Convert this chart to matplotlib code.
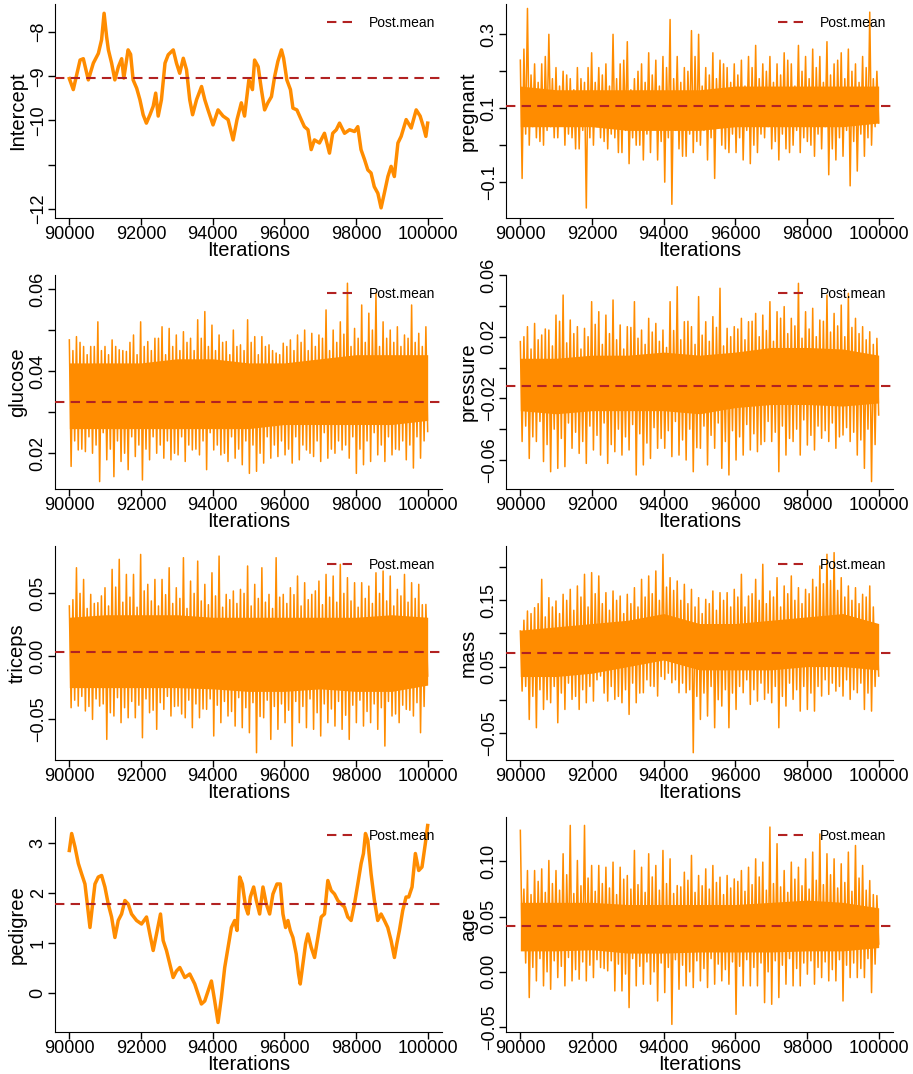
import numpy as np
import matplotlib
matplotlib.use("Agg")
import matplotlib.pyplot as plt
from matplotlib.lines import Line2D

plt.rcParams['font.family'] = ['Liberation Sans', 'DejaVu Sans']

##Data
# smooth (slowly mixing) chains: iteration, value
intercept_iter = [90000, 90110, 90300, 90390, 90530, 90670, 90810, 90900, 90970, 91040,
                  91090, 91180, 91270, 91370, 91460, 91520, 91640, 91710, 91780, 91880,
                  91970, 92060, 92150, 92250, 92340, 92410, 92480, 92570, 92670, 92760,
                  92900, 92990, 93080, 93180, 93270, 93360, 93440, 93550, 93690, 93780,
                  93870, 94010, 94150, 94290, 94430, 94570, 94680, 94800, 94890, 95010,
                  95110, 95170, 95270, 95360, 95450, 95540, 95640, 95730, 95820, 95920,
                  95980, 96070, 96170, 96240, 96350, 96470, 96560, 96660, 96750, 96840,
                  96980, 97120, 97260, 97350, 97450, 97540, 97680, 97820, 97960, 98050,
                  98140, 98240, 98330, 98420, 98510, 98610, 98700, 98790, 98890, 98980,
                  99070, 99170, 99260, 99400, 99540, 99680, 99790, 99880, 99950, 100000]
intercept = [-9.05, -9.3, -8.63, -8.6, -9.08, -8.7, -8.48, -8.17, -7.57, -8.1,
             -8.4, -8.7, -9.08, -8.78, -8.6, -9.04, -8.4, -8.5, -9.08, -9.27,
             -9.53, -9.87, -10.06, -9.87, -9.68, -9.38, -9.9, -9.53, -8.7, -8.51,
             -8.4, -8.7, -8.93, -8.59, -8.85, -9.53, -9.87, -9.53, -9.23, -9.53,
             -9.76, -10.1, -9.76, -9.9, -9.98, -10.44, -9.98, -9.6, -9.9, -9.08,
             -9.3, -8.63, -8.78, -9.3, -9.76, -9.6, -9.46, -9.0, -8.66, -8.4,
             -8.59, -9.08, -9.3, -9.72, -9.76, -9.98, -10.14, -10.21, -10.66, -10.44,
             -10.51, -10.29, -10.74, -10.29, -10.21, -10.06, -10.29, -10.21, -10.25, -10.14,
             -10.66, -10.89, -11.12, -11.19, -11.5, -11.65, -11.98, -11.65, -11.27, -11.04,
             -11.27, -10.51, -10.36, -9.98, -10.17, -9.76, -9.9, -10.14, -10.36, -10.06]

pedigree_iter = [90000, 90065, 90158, 90251, 90344, 90436, 90501, 90576, 90650, 90715,
                 90808, 90901, 90993, 91086, 91179, 91272, 91365, 91458, 91551, 91643,
                 91736, 91876, 92015, 92154, 92247, 92340, 92433, 92544, 92618, 92711,
                 92804, 92897, 92990, 93083, 93222, 93361, 93500, 93593, 93686, 93779,
                 93872, 93965, 94057, 94150, 94243, 94336, 94429, 94522, 94615, 94680,
                 94754, 94828, 94921, 94986, 95051, 95144, 95218, 95311, 95404, 95497,
                 95590, 95682, 95794, 95887, 95961, 96035, 96100, 96165, 96240, 96332,
                 96397, 96444, 96518, 96592, 96657, 96750, 96843, 96936, 97029, 97121,
                 97214, 97307, 97400, 97493, 97586, 97679, 97771, 97864, 97957, 98050,
                 98143, 98208, 98264, 98329, 98421, 98514, 98607, 98700, 98793, 98886,
                 98979, 99072, 99137, 99211, 99304, 99397, 99471, 99564, 99657, 99750,
                 99842, 99935, 100000]
pedigree = [2.85, 3.19, 2.92, 2.59, 2.38, 2.18, 1.78, 1.31, 1.78, 2.18,
            2.32, 2.35, 2.12, 1.78, 1.52, 1.11, 1.45, 1.58, 1.85, 1.78,
            1.58, 1.45, 1.38, 1.52, 1.18, 0.85, 1.18, 1.58, 1.05, 0.85,
            0.58, 0.31, 0.44, 0.51, 0.31, 0.38, 0.18, -0.02, -0.22, -0.16,
            0.04, 0.24, -0.16, -0.59, -0.09, 0.51, 0.91, 1.31, 1.45, 1.25,
            2.32, 2.18, 1.72, 1.58, 1.92, 2.12, 1.85, 1.58, 2.12, 1.78,
            1.58, 1.98, 2.18, 2.18, 1.58, 1.31, 1.45, 1.25, 1.11, 0.78,
            0.38, 0.18, 0.58, 0.98, 1.18, 0.91, 0.71, 1.11, 1.52, 1.58,
            2.25, 2.05, 1.98, 1.85, 1.78, 1.72, 1.52, 1.45, 1.78, 2.18,
            2.59, 2.79, 3.19, 3.05, 2.38, 1.85, 1.45, 1.58, 1.45, 1.31,
            1.05, 0.71, 0.98, 1.25, 1.65, 1.92, 1.92, 2.12, 2.79, 2.45,
            2.52, 2.99, 3.35]

# fast mixing chains:
#   *_hi / *_lo      tall spike tops / bottoms, every 200 iterations
#   *_hi2 / *_lo2    smaller spikes in between
#   *_core_hi/_lo    the dense part of the band, every 1000 iterations
pregnant_hi = [0.23, 0.37, 0.22, 0.22, 0.30, 0.21, 0.20, 0.18, 0.21, 0.17,
               0.25, 0.21, 0.22, 0.30, 0.22, 0.28, 0.18, 0.22, 0.25, 0.23,
               0.24, 0.34, 0.24, 0.21, 0.31, 0.30, 0.21, 0.25, 0.23, 0.21,
               0.22, 0.23, 0.24, 0.27, 0.22, 0.24, 0.22, 0.25, 0.22, 0.27,
               0.24, 0.26, 0.24, 0.28, 0.22, 0.25, 0.26, 0.22, 0.24, 0.36, 0.20]
pregnant_lo = [-0.09, 0.0, 0.02, 0.0, 0.05, 0.02, 0.0, 0.02, -0.01, -0.17,
               0.0, 0.02, -0.01, 0.02, -0.02, -0.05, 0.0, -0.04, -0.02, -0.04,
               -0.10, -0.16, -0.01, -0.03, -0.02, 0.0, -0.04, -0.09, 0.0, -0.02,
               -0.02, -0.04, -0.05, -0.02, 0.02, -0.01, -0.04, -0.01, 0.0, -0.02,
               0.01, -0.03, -0.01, -0.08, -0.04, -0.03, -0.11, -0.07, -0.03, 0.0, 0.06]
pregnant_hi2 = [0.26, 0.19, 0.17, 0.24, 0.18, 0.16, 0.19, 0.15, 0.18, 0.21,
                0.17, 0.19, 0.16, 0.18, 0.23, 0.15, 0.20, 0.17, 0.19, 0.16,
                0.21, 0.18, 0.17, 0.20, 0.24, 0.16, 0.19, 0.18, 0.22, 0.17,
                0.19, 0.16, 0.21, 0.18, 0.20, 0.17, 0.19, 0.23, 0.16, 0.20,
                0.18, 0.21, 0.17, 0.19, 0.23, 0.18, 0.20, 0.17, 0.21, 0.18]
pregnant_lo2 = [0.03, 0.05, 0.01, 0.04, 0.02, 0.06, 0.03, -0.01, 0.04, 0.02,
                0.05, 0.01, 0.03, -0.02, 0.04, 0.02, 0.0, 0.03, 0.05, 0.01,
                0.02, 0.04, -0.03, 0.03, 0.01, 0.04, 0.02, 0.05, -0.01, 0.03,
                0.02, 0.04, 0.0, 0.03, 0.05, 0.01, 0.03, -0.02, 0.04, 0.02,
                0.0, 0.03, 0.05, -0.01, 0.02, 0.04, 0.01, 0.03, 0.02, 0.05]
pregnant_core_hi = [0.16, 0.15, 0.15, 0.15, 0.15, 0.15, 0.16, 0.16, 0.16, 0.16, 0.16]
pregnant_core_lo = [0.05, 0.05, 0.05, 0.04, 0.04, 0.04, 0.05, 0.05, 0.05, 0.05, 0.06]

glucose_hi = [0.0476, 0.0484, 0.046, 0.046, 0.052, 0.046, 0.0476, 0.0452, 0.0448, 0.0488,
              0.052, 0.0472, 0.048, 0.0508, 0.0504, 0.0488, 0.0496, 0.048, 0.0525, 0.0545,
              0.0512, 0.0488, 0.0472, 0.05, 0.0464, 0.0525, 0.0484, 0.0484, 0.0464, 0.0444,
              0.0468, 0.0476, 0.0488, 0.05, 0.0492, 0.0488, 0.0549, 0.05, 0.052, 0.0614,
              0.0504, 0.0561, 0.0541, 0.059, 0.052, 0.05, 0.0508, 0.0488, 0.0561, 0.0492, 0.0508]
glucose_lo = [0.0168, 0.0208, 0.0204, 0.02, 0.0131, 0.0184, 0.0143, 0.018, 0.016, 0.0192,
              0.0135, 0.0184, 0.02, 0.0188, 0.0184, 0.0196, 0.018, 0.0208, 0.0196, 0.016,
              0.0208, 0.0196, 0.018, 0.0188, 0.0172, 0.0151, 0.0156, 0.0176, 0.0188, 0.0192,
              0.0196, 0.0176, 0.0184, 0.0208, 0.0192, 0.018, 0.0188, 0.02, 0.0208, 0.0188,
              0.0151, 0.0172, 0.018, 0.0196, 0.018, 0.0196, 0.0208, 0.0184, 0.0164, 0.0188, 0.0253]
glucose_hi2 = [0.045, 0.047, 0.044, 0.046, 0.045, 0.044, 0.046, 0.045, 0.047, 0.044,
               0.046, 0.045, 0.048, 0.044, 0.046, 0.045, 0.047, 0.045, 0.048, 0.046,
               0.045, 0.047, 0.044, 0.046, 0.045, 0.047, 0.044, 0.046, 0.045, 0.044,
               0.046, 0.045, 0.047, 0.045, 0.046, 0.048, 0.045, 0.047, 0.049, 0.046,
               0.048, 0.047, 0.05, 0.046, 0.048, 0.047, 0.046, 0.048, 0.047, 0.046]
glucose_lo2 = [0.023, 0.021, 0.024, 0.022, 0.025, 0.021, 0.023, 0.02, 0.024, 0.022,
               0.021, 0.024, 0.022, 0.023, 0.02, 0.024, 0.022, 0.021, 0.023, 0.025,
               0.022, 0.02, 0.024, 0.021, 0.023, 0.022, 0.02, 0.024, 0.022, 0.023,
               0.021, 0.024, 0.022, 0.02, 0.023, 0.025, 0.021, 0.023, 0.022, 0.024,
               0.021, 0.023, 0.025, 0.022, 0.024, 0.021, 0.023, 0.022, 0.024, 0.023]
glucose_core_hi = [0.042, 0.042, 0.042, 0.043, 0.043, 0.042, 0.042, 0.043, 0.044, 0.044, 0.044]
glucose_core_lo = [0.026, 0.026, 0.026, 0.026, 0.026, 0.026, 0.027, 0.027, 0.027, 0.027, 0.028]

pressure_hi = [0.0168, 0.0265, 0.0286, 0.0211, 0.0243, 0.034, 0.047, 0.0308, 0.0265, 0.0254,
               0.0427, 0.0362, 0.034, 0.0438, 0.0276, 0.0265, 0.0427, 0.0243, 0.0319, 0.0286,
               0.0243, 0.0427, 0.0524, 0.0297, 0.0265, 0.046, 0.0297, 0.033, 0.0514, 0.0254,
               0.0265, 0.0319, 0.0297, 0.0351, 0.034, 0.0427, 0.0362, 0.0395, 0.0319, 0.0546,
               0.0362, 0.0384, 0.0308, 0.047, 0.0351, 0.0405, 0.0481, 0.0319, 0.0265, 0.0232, 0.0189]
pressure_lo = [-0.048, -0.059, -0.048, -0.061, -0.0676, -0.0654, -0.0643, -0.0524, -0.0557, -0.0622,
               -0.0535, -0.0568, -0.0622, -0.0546, -0.0568, -0.0535, -0.0697, -0.0632, -0.059, -0.0524,
               -0.0524, -0.0578, -0.0568, -0.06, -0.0676, -0.0524, -0.0632, -0.0524, -0.0654, -0.0697,
               -0.06, -0.0568, -0.0535, -0.0546, -0.048, -0.048, -0.0676, -0.0568, -0.048, -0.0568,
               -0.0503, -0.0535, -0.0459, -0.048, -0.0524, -0.0438, -0.048, -0.0568, -0.0654, -0.074, -0.0308]
pressure_hi2 = [0.02, 0.012, 0.018, 0.025, 0.014, 0.03, 0.016, 0.022, 0.012, 0.02,
                0.028, 0.015, 0.022, 0.018, 0.012, 0.026, 0.019, 0.015, 0.023, 0.017,
                0.013, 0.024, 0.018, 0.03, 0.015, 0.021, 0.017, 0.026, 0.014, 0.02,
                0.025, 0.018, 0.03, 0.02, 0.024, 0.017, 0.032, 0.022, 0.027, 0.019,
                0.025, 0.02, 0.03, 0.023, 0.027, 0.02, 0.026, 0.022, 0.018, 0.015]
pressure_lo2 = [-0.038, -0.045, -0.035, -0.05, -0.04, -0.046, -0.036, -0.042, -0.048, -0.038,
                -0.044, -0.036, -0.05, -0.04, -0.045, -0.037, -0.043, -0.049, -0.039, -0.046,
                -0.041, -0.035, -0.047, -0.04, -0.052, -0.038, -0.044, -0.036, -0.048, -0.041,
                -0.045, -0.037, -0.043, -0.05, -0.035, -0.042, -0.038, -0.046, -0.04, -0.034,
                -0.044, -0.038, -0.041, -0.036, -0.045, -0.039, -0.042, -0.047, -0.04, -0.05]
pressure_core_hi = [0.006, 0.006, 0.008, 0.008, 0.01, 0.008, 0.01, 0.013, 0.013, 0.012, 0.008]
pressure_core_lo = [-0.028, -0.03, -0.028, -0.028, -0.028, -0.03, -0.026, -0.024, -0.024, -0.025, -0.023]

triceps_hi = [0.04, 0.0704, 0.0611, 0.0492, 0.0426, 0.0545, 0.0691, 0.0771, 0.0651, 0.0651,
              0.081, 0.0572, 0.0611, 0.0611, 0.0704, 0.0545, 0.0784, 0.0598, 0.0757, 0.0572,
              0.0664, 0.0797, 0.0492, 0.0519, 0.0532, 0.0718, 0.0572, 0.0704, 0.0492, 0.0784,
              0.0492, 0.0545, 0.0638, 0.0585, 0.0492, 0.0598, 0.0651, 0.0638, 0.0731, 0.0625,
              0.0585, 0.0585, 0.0558, 0.0664, 0.0678, 0.0638, 0.0532, 0.0651, 0.0585, 0.0572, 0.0412]
triceps_lo = [-0.041, -0.0397, -0.0436, -0.0503, -0.0397, -0.0662, -0.0476, -0.0529, -0.049, -0.049,
              -0.0649, -0.045, -0.0582, -0.0423, -0.0476, -0.0397, -0.049, -0.0569, -0.049, -0.0423,
              -0.0635, -0.0529, -0.0476, -0.0556, -0.0569, -0.0609, -0.0768, -0.049, -0.0662, -0.0582,
              -0.0529, -0.0715, -0.0529, -0.0569, -0.0582, -0.0635, -0.0529, -0.0556, -0.0582, -0.0662,
              -0.0529, -0.0556, -0.0529, -0.0582, -0.0715, -0.0476, -0.0529, -0.0423, -0.0476, -0.0609, -0.0158]
triceps_hi2 = [0.045, 0.05, 0.038, 0.042, 0.048, 0.04, 0.055, 0.043, 0.047, 0.039,
               0.052, 0.044, 0.04, 0.049, 0.042, 0.046, 0.038, 0.05, 0.044, 0.041,
               0.048, 0.039, 0.045, 0.042, 0.05, 0.04, 0.046, 0.043, 0.038, 0.047,
               0.042, 0.049, 0.04, 0.045, 0.052, 0.041, 0.047, 0.043, 0.05, 0.044,
               0.039, 0.046, 0.042, 0.05, 0.044, 0.04, 0.048, 0.043, 0.046, 0.041]
triceps_lo2 = [-0.035, -0.032, -0.04, -0.034, -0.038, -0.045, -0.033, -0.041, -0.036, -0.039,
               -0.034, -0.043, -0.037, -0.032, -0.04, -0.046, -0.035, -0.038, -0.042, -0.034,
               -0.039, -0.036, -0.044, -0.033, -0.041, -0.037, -0.048, -0.035, -0.04, -0.038,
               -0.043, -0.036, -0.04, -0.034, -0.045, -0.038, -0.042, -0.036, -0.047, -0.039,
               -0.035, -0.044, -0.038, -0.041, -0.036, -0.046, -0.039, -0.043, -0.037, -0.04]
triceps_core_hi = [0.031, 0.033, 0.033, 0.033, 0.031, 0.031, 0.031, 0.031, 0.031, 0.033, 0.031]
triceps_core_lo = [-0.025, -0.025, -0.025, -0.025, -0.026, -0.028, -0.028, -0.026, -0.028, -0.028, -0.023]

mass_hi = [0.1037, 0.1339, 0.1389, 0.1817, 0.154, 0.149, 0.1591, 0.1666, 0.1717, 0.1893,
           0.1918, 0.1868, 0.1616, 0.1641, 0.1565, 0.1591, 0.1691, 0.1817, 0.1868, 0.1943,
           0.2195, 0.1842, 0.1792, 0.1742, 0.1666, 0.154, 0.1515, 0.1641, 0.1616, 0.1616,
           0.1666, 0.1893, 0.1565, 0.1817, 0.2044, 0.1641, 0.1842, 0.1717, 0.1868, 0.1691,
           0.1666, 0.1817, 0.2019, 0.2195, 0.222, 0.1842, 0.1717, 0.1691, 0.1591, 0.1717, 0.1112]
mass_lo = [0.013, -0.0298, -0.0423, -0.0147, -0.0046, -0.0348, -0.0147, 0.0005, -0.0147, -0.0046,
           -0.0021, 0.0357, -0.0021, 0.0005, -0.0046, -0.0222, -0.0046, 0.0105, 0.0206, 0.0055,
           0.0307, 0.0256, 0.0105, 0.0105, -0.08, -0.0298, -0.0247, -0.0423, -0.0096, -0.0423,
           -0.0147, 0.0105, -0.0071, -0.0021, 0.0005, -0.0046, -0.0423, -0.0096, 0.0005, -0.0172,
           -0.0147, -0.0172, 0.0055, 0.008, 0.013, 0.0055, 0.0005, 0.0105, -0.0147, -0.0172, 0.0357]
mass_hi2 = [0.12, 0.13, 0.145, 0.125, 0.14, 0.13, 0.15, 0.135, 0.155, 0.14,
            0.16, 0.145, 0.135, 0.15, 0.13, 0.145, 0.14, 0.155, 0.16, 0.15,
            0.17, 0.165, 0.15, 0.145, 0.14, 0.13, 0.145, 0.135, 0.15, 0.14,
            0.155, 0.14, 0.16, 0.15, 0.145, 0.155, 0.14, 0.16, 0.15, 0.145,
            0.16, 0.17, 0.175, 0.18, 0.165, 0.155, 0.15, 0.145, 0.155, 0.14]
mass_lo2 = [0.02, 0.005, 0.015, 0.0, 0.02, 0.01, 0.025, 0.005, 0.015, 0.02,
            0.03, 0.01, 0.02, 0.005, 0.015, 0.025, 0.01, 0.03, 0.02, 0.035,
            0.04, 0.03, 0.025, 0.015, 0.005, 0.01, 0.02, 0.0, 0.015, 0.01,
            0.02, 0.03, 0.015, 0.025, 0.01, 0.02, 0.005, 0.025, 0.015, 0.02,
            0.01, 0.02, 0.03, 0.025, 0.02, 0.03, 0.015, 0.025, 0.01, 0.02]
mass_core_hi = [0.105, 0.11, 0.115, 0.12, 0.13, 0.115, 0.115, 0.12, 0.125, 0.13, 0.115]
mass_core_lo = [0.035, 0.035, 0.04, 0.05, 0.06, 0.045, 0.045, 0.045, 0.05, 0.05, 0.045]

age_hi = [0.1282, 0.0918, 0.0918, 0.0933, 0.1009, 0.0918, 0.107, 0.1327, 0.1009, 0.1327,
          0.0964, 0.0964, 0.0948, 0.0994, 0.0948, 0.0873, 0.11, 0.0948, 0.107, 0.0964,
          0.11, 0.1024, 0.0782, 0.0903, 0.1055, 0.0873, 0.0933, 0.0964, 0.0858, 0.0873,
          0.0842, 0.0918, 0.0948, 0.1024, 0.0994, 0.1312, 0.1161, 0.0918, 0.0994, 0.0948,
          0.1024, 0.1085, 0.125, 0.107, 0.1024, 0.0979, 0.1085, 0.1145, 0.0964, 0.0827, 0.0691]
age_lo = [0.0252, -0.0233, -0.0082, -0.0127, -0.0158, -0.0052, -0.0127, -0.0082, -0.0067, -0.0082,
          -0.0052, 0.0039, 0.0009, -0.0173, -0.0173, -0.0324, -0.0127, -0.0112, -0.0112, -0.0264,
          -0.0188, -0.0476, -0.0158, -0.0127, -0.0142, -0.0082, -0.0142, -0.0112, -0.0082, -0.0112,
          -0.0385, -0.0127, -0.0127, -0.0127, -0.0279, -0.0294, -0.0233, -0.0112, -0.0127, -0.0127,
          -0.0021, -0.0112, -0.0052, -0.0082, -0.0082, -0.0264, -0.0052, -0.0052, -0.0052, -0.0188, 0.0252]
age_hi2 = [0.075, 0.07, 0.082, 0.072, 0.08, 0.074, 0.088, 0.071, 0.078, 0.085,
           0.073, 0.08, 0.076, 0.07, 0.084, 0.075, 0.079, 0.072, 0.086, 0.074,
           0.08, 0.071, 0.077, 0.083, 0.072, 0.078, 0.075, 0.081, 0.07, 0.076,
           0.082, 0.073, 0.079, 0.086, 0.074, 0.08, 0.077, 0.072, 0.084, 0.078,
           0.075, 0.083, 0.079, 0.088, 0.076, 0.081, 0.073, 0.085, 0.074, 0.07]
age_lo2 = [0.008, 0.004, 0.012, 0.0, 0.01, 0.005, 0.013, 0.002, 0.009, 0.006,
           0.011, 0.003, 0.01, 0.007, -0.002, 0.012, 0.005, 0.009, 0.0, 0.008,
           0.004, 0.011, 0.006, 0.0, 0.01, 0.003, 0.012, 0.007, 0.002, 0.009,
           0.005, 0.011, 0.004, 0.008, 0.0, 0.01, 0.006, 0.012, 0.003, 0.008,
           0.01, 0.004, 0.009, 0.002, 0.011, 0.006, 0.008, 0.003, 0.012, 0.007]
age_core_hi = [0.063, 0.063, 0.063, 0.061, 0.061, 0.061, 0.061, 0.063, 0.065, 0.063, 0.058]
age_core_lo = [0.019, 0.019, 0.02, 0.017, 0.017, 0.018, 0.018, 0.018, 0.019, 0.019, 0.022]

# posterior means (red dashed line)
post_mean = {'Intercept': -9.03, 'pregnant': 0.106, 'glucose': 0.0326, 'pressure': -0.012,
             'triceps': 0.003, 'mass': 0.071, 'pedigree': 1.78, 'age': 0.0415}

x_ticks = [90000, 92000, 94000, 96000, 98000, 100000]

##Figure layout (pixel boxes of each plot region)
W, H = 913, 1074
fig = plt.figure(figsize=(W / 100, H / 100), dpi=100)
col_x = [55, 506]
row_y = [(4, 218), (275, 489), (546, 760), (817, 1032)]
ORANGE = '#FF8C00'
RED = '#B22222'


def make_axes(row, col):
    y0, y1 = row_y[row]
    ax = fig.add_axes([col_x[col] / W, 1 - y1 / H, 387 / W, (y1 - y0) / H])
    ax.spines['top'].set_visible(False)
    ax.spines['right'].set_visible(False)
    ax.set_xlim(89600, 100400)
    ax.set_xticks(x_ticks)
    ax.set_xticklabels([str(t) for t in x_ticks])
    ax.tick_params(direction='out', length=5, width=1, labelsize=13, pad=1)
    ax.set_xlabel('Iterations', fontsize=14.5, labelpad=-2)
    return ax


def finish(ax, name, ylim, yticks, ylabels):
    ax.axhline(post_mean[name], color=RED, lw=1.5, dashes=(4.5, 3), zorder=5)
    ax.set_ylim(*ylim)
    ax.set_yticks(yticks)
    ax.set_yticklabels(ylabels, rotation=90, va='center')
    ax.set_ylabel(name, fontsize=14.5, labelpad=2)
    h = Line2D([], [], color=RED, lw=1.5, dashes=(4.5, 3))
    ax.legend([h], ['Post.mean'], loc='upper right', bbox_to_anchor=(1.012, 0.995),
              frameon=False, fontsize=10, handlelength=2.2, borderaxespad=0.4)


def smooth_panel(ax, iters, vals):
    ax.plot(iters, vals, color=ORANGE, lw=2.5)


def noisy_panel(ax, hi, lo, hi2, lo2, core_hi, core_lo):
    tops = np.empty(len(hi) + len(hi2))
    tops[0::2] = hi
    tops[1::2] = hi2
    bots = np.empty(len(lo) + len(lo2))
    bots[0::2] = lo
    bots[1::2] = lo2
    trace = np.empty(2 * len(tops))
    trace[0::2] = tops
    trace[1::2] = bots
    xs = np.linspace(90000, 100000, len(trace))
    xc = np.linspace(90000, 100000, len(core_hi))
    ax.fill_between(xc, core_lo, core_hi, color=ORANGE, lw=0)
    ax.plot(xs, trace, color=ORANGE, lw=1.1)


ax = make_axes(0, 0)
smooth_panel(ax, intercept_iter, intercept)
finish(ax, 'Intercept', (-12.21, -7.36), [-12, -11, -10, -9, -8],
       ['\u221212', '', '\u221210', '\u22129', '\u22128'])

ax = make_axes(0, 1)
noisy_panel(ax, pregnant_hi, pregnant_lo, pregnant_hi2, pregnant_lo2,
            pregnant_core_hi, pregnant_core_lo)
finish(ax, 'pregnant', (-0.197, 0.382), [-0.1, 0.0, 0.1, 0.2, 0.3],
       ['\u22120.1', '', '0.1', '', '0.3'])

ax = make_axes(1, 0)
noisy_panel(ax, glucose_hi, glucose_lo, glucose_hi2, glucose_lo2,
            glucose_core_hi, glucose_core_lo)
finish(ax, 'glucose', (0.0113, 0.0634), [0.02, 0.03, 0.04, 0.05, 0.06],
       ['0.02', '', '0.04', '', '0.06'])

ax = make_axes(1, 1)
noisy_panel(ax, pressure_hi, pressure_lo, pressure_hi2, pressure_lo2,
            pressure_core_hi, pressure_core_lo)
finish(ax, 'pressure', (-0.0788, 0.06), [-0.06, -0.04, -0.02, 0.0, 0.02, 0.04, 0.06],
       ['\u22120.06', '', '\u22120.02', '', '0.02', '', '0.06'])

ax = make_axes(2, 0)
noisy_panel(ax, triceps_hi, triceps_lo, triceps_hi2, triceps_lo2,
            triceps_core_hi, triceps_core_lo)
finish(ax, 'triceps', (-0.0826, 0.0877), [-0.05, 0.0, 0.05],
       ['\u22120.05', '0.00', '0.05'])

ax = make_axes(2, 1)
noisy_panel(ax, mass_hi, mass_lo, mass_hi2, mass_lo2, mass_core_hi, mass_core_lo)
finish(ax, 'mass', (-0.091, 0.232), [-0.05, 0.0, 0.05, 0.10, 0.15, 0.20],
       ['\u22120.05', '', '0.05', '', '0.15', ''])

ax = make_axes(3, 0)
smooth_panel(ax, pedigree_iter, pedigree)
finish(ax, 'pedigree', (-0.78, 3.52), [0, 1, 2, 3], ['0', '1', '2', '3'])

ax = make_axes(3, 1)
noisy_panel(ax, age_hi, age_lo, age_hi2, age_lo2, age_core_hi, age_core_lo)
finish(ax, 'age', (-0.0545, 0.1403), [-0.05, 0.0, 0.05, 0.10],
       ['\u22120.05', '0.00', '0.05', '0.10'])

fig.savefig('out.png', dpi=100)
